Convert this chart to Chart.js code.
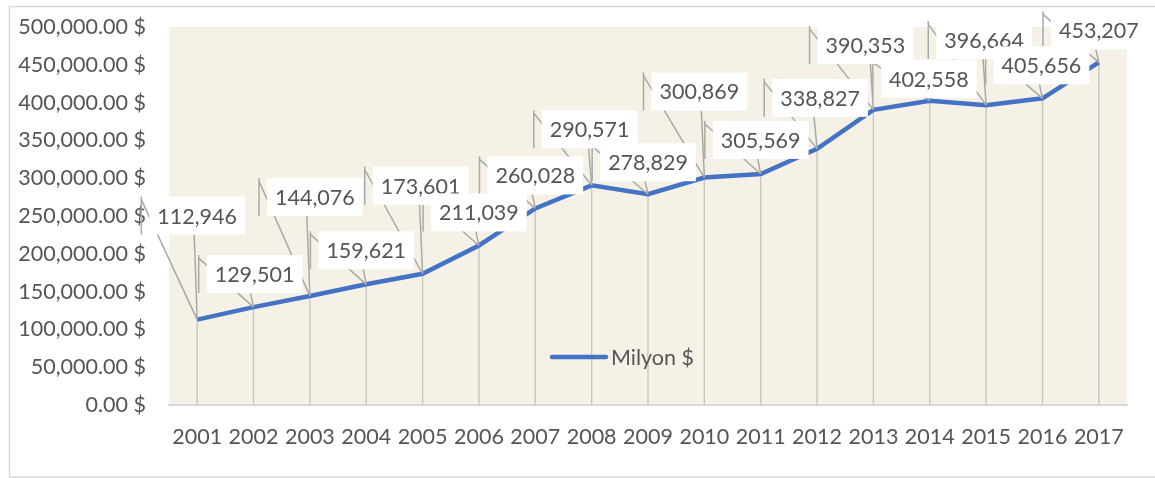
<!DOCTYPE html>
<html>
<head>
<meta charset="utf-8">
<script src="https://cdn.jsdelivr.net/npm/chart.js@4/dist/chart.umd.min.js"></script>
<style>
    html, body { margin: 0; padding: 0; background: #fff; }
    #wrap { width: 1155px; height: 478px; }
</style>
</head>
<body>
<div id="wrap"><canvas id="myChart" width="1155" height="478"></canvas></div>
<script>
const years = ['2001', '2002', '2003', '2004', '2005', '2006', '2007', '2008', '2009',
    '2010', '2011', '2012', '2013', '2014', '2015', '2016', '2017'];
const values = [112946, 129501, 144076, 159621, 173601, 211039, 260028, 290571, 278829,
    300869, 305569, 338827, 390353, 402558, 396664, 405656, 453207];
const seriesName = 'Milyon $';

// where each value box sits relative to its point (px)
const labelShift = [
    [0, -104], [1, -33], [5, -99], [0, -34], [-2, -88], [0, -33], [0, -33], [-2, -56], [0, -32],
    [-5, -86], [0, -34], [3, -51], [-8, -65], [-1, -22], [-2, -65], [-1, -33], [0, -32],
];

const FONT = 'Lato, "Open Sans", sans-serif';
const SIZE = 21.5;
const TEXT = '#555555';

const fmt = v => v.toLocaleString('en-US');
const fmtAxis = v => v.toLocaleString('en-US', { minimumFractionDigits: 2, maximumFractionDigits: 2 }) + ' $';

const decor = {
    id: 'decor',
    beforeDraw(chart) {
        const { ctx, chartArea: a } = chart;
        ctx.save();
        // outer frame
        ctx.strokeStyle = '#d9d9d9';
        ctx.lineWidth = 1.5;
        ctx.beginPath();
        ctx.moveTo(1160, 6.5);
        ctx.lineTo(9.5, 6.5);
        ctx.lineTo(9.5, 477);
        ctx.lineTo(1160, 477);
        ctx.stroke();
        // paper background of the plot
        ctx.fillStyle = '#f6f1e6';
        ctx.fillRect(a.left, a.top, a.right - a.left, a.bottom - a.top);
        ctx.restore();
    },
    beforeDatasetsDraw(chart) {
        const { ctx, chartArea: a } = chart;
        const pts = chart.getDatasetMeta(0).data;
        ctx.save();
        // drop lines
        ctx.strokeStyle = '#cbc8c2';
        ctx.lineWidth = 1.5;
        pts.forEach(p => {
            ctx.beginPath();
            ctx.moveTo(p.x, p.y);
            ctx.lineTo(p.x, a.bottom);
            ctx.stroke();
        });
        // legend inside the plot
        const ly = 357, lx = 552;
        ctx.strokeStyle = '#4472c4';
        ctx.lineWidth = 4.5;
        ctx.lineCap = 'round';
        ctx.beginPath();
        ctx.moveTo(lx, ly);
        ctx.lineTo(lx + 54, ly);
        ctx.stroke();
        ctx.fillStyle = TEXT;
        ctx.font = SIZE + 'px ' + FONT;
        ctx.textBaseline = 'middle';
        ctx.fillText(chart.data.datasets[0].label, lx + 59, ly + 1);
        ctx.restore();
    },
    afterDatasetsDraw(chart) {
        const { ctx } = chart;
        const pts = chart.getDatasetMeta(0).data;
        const vals = chart.data.datasets[0].data;
        ctx.save();
        ctx.font = SIZE + 'px ' + FONT;
        const boxes = pts.map((p, i) => {
            const txt = fmt(vals[i]);
            const w = ctx.measureText(txt).width + 16;
            const h = 38;
            const cx = p.x + labelShift[i][0];
            const cy = p.y + labelShift[i][1];
            return { txt, x0: cx - w / 2, y0: cy - h / 2, w, h, cx, cy, p };
        });
        // leader lines
        ctx.strokeStyle = '#a9a9a9';
        ctx.lineWidth = 1.5;
        boxes.forEach(b => {
            const sx = b.x0 - 8;
            ctx.beginPath();
            ctx.moveTo(sx, b.y0);
            ctx.lineTo(sx, b.y0 + b.h);
            ctx.moveTo(sx, b.y0 + 3);
            ctx.lineTo(b.p.x, b.p.y);
            if (b.p.x > b.x0 && b.p.x < b.x0 + b.w) {
                ctx.moveTo(b.p.x - 3, b.y0 + b.h);
                ctx.lineTo(b.p.x, b.p.y);
            }
            ctx.stroke();
        });
        // value boxes
        boxes.forEach(b => {
            ctx.fillStyle = '#ffffff';
            ctx.fillRect(b.x0, b.y0, b.w, b.h);
            ctx.fillStyle = TEXT;
            ctx.textAlign = 'center';
            ctx.textBaseline = 'middle';
            ctx.fillText(b.txt, b.cx, b.cy + 1);
        });
        ctx.restore();
    }
};

const data = {
    labels: years,
    datasets: [{
        label: seriesName,
        data: values,
        borderColor: '#4472c4',
        backgroundColor: '#4472c4',
        borderWidth: 4.5,
        pointRadius: 0,
        tension: 0,
    }]
};

const options = {
    responsive: false,
    animation: false,
    layout: { padding: { left: 0, top: 27, right: 28, bottom: 0 } },
    scales: {
        x: {
            offset: true,
            grid: { display: false, drawTicks: false },
            border: { display: true, color: '#d9d9d9', width: 2 },
            ticks: {
                color: TEXT,
                font: { family: FONT, size: SIZE },
                padding: 19,
                maxRotation: 0,
                autoSkip: false,
            },
            afterFit(scale) {
                scale.height = 73;
                scale.paddingLeft = 0;
                scale.paddingRight = 0;
            },
        },
        y: {
            min: 0,
            max: 500000,
            grid: { display: false, drawTicks: false },
            border: { display: false },
            ticks: {
                stepSize: 50000,
                color: TEXT,
                font: { family: FONT, size: SIZE },
                padding: 23,
                callback: v => fmtAxis(v),
            },
            afterFit(scale) {
                scale.width = 169;
                scale.paddingTop = 0;
                scale.paddingBottom = 0;
            },
        },
    },
    plugins: {
        legend: { display: false },
        tooltip: { enabled: false },
    }
};

const myChart = new Chart(document.getElementById('myChart'), {
    type: 'line',
    data: data,
    options,
    plugins: [decor],
});
</script>
</body>
</html>
